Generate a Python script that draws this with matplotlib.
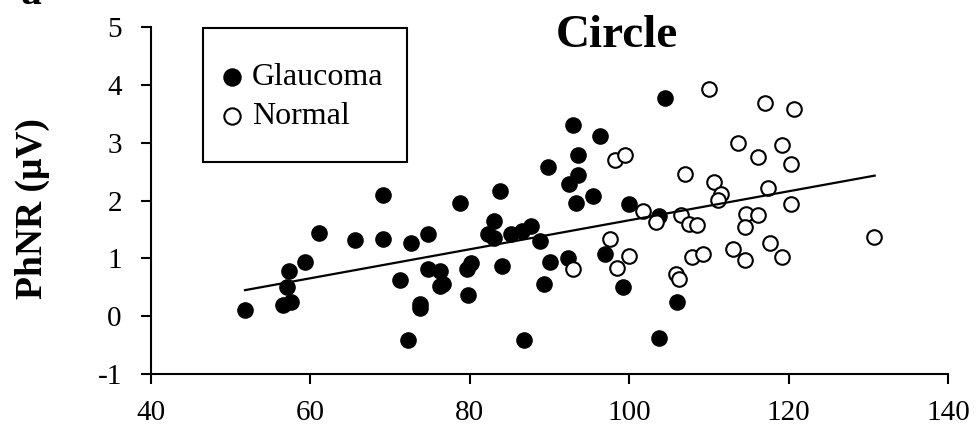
import matplotlib
matplotlib.use("Agg")
import matplotlib.pyplot as plt
from matplotlib.patches import Rectangle

plt.rcParams['font.family'] = ['Liberation Serif', 'DejaVu Serif']
plt.rcParams['axes.unicode_minus'] = False

glaucoma_x = [51.8, 56.5, 57.6, 57.1, 57.3, 59.3, 61.1, 65.6, 69.05, 69.05,
              72.6, 71.3, 72.3, 73.8, 73.8, 74.8, 74.8, 76.2, 76.2, 76.7,
              78.8, 79.6, 80.2, 79.8, 83.8, 83.0, 82.3, 83.0, 84.05, 85.2,
              86.5, 87.7, 88.8, 89.3, 86.8, 89.8, 90.0, 92.3, 92.96, 93.6,
              93.6, 92.5, 93.3, 95.5, 96.3, 97.0, 99.2, 100.0, 103.7, 104.5,
              106.0, 103.7]
glaucoma_y = [0.10, 0.19, 0.24, 0.50, 0.78, 0.93, 1.43, 1.31, 1.33, 2.09,
              1.27, 0.63, -0.42, 0.21, 0.14, 1.42, 0.82, 0.78, 0.52, 0.55,
              1.95, 0.82, 0.92, 0.36, 2.17, 1.64, 1.42, 1.36, 0.87, 1.42,
              1.48, 1.56, 1.30, 0.55, -0.42, 2.58, 0.94, 1.00, 3.30, 2.79,
              2.44, 2.28, 1.96, 2.08, 3.11, 1.08, 0.50, 1.94, 1.74, 3.77,
              0.24, -0.37]

normal_x = [93.0, 98.2, 99.5, 97.55, 98.5, 100.0, 101.7, 103.4, 110.0, 117.0,
            120.7, 113.7, 119.2, 116.2, 120.25, 107.05, 110.7, 111.5, 111.2, 117.45,
            120.25, 106.5, 107.5, 108.55, 114.7, 116.2, 114.5, 130.7, 117.7, 113.0,
            107.9, 109.25, 114.5, 119.2, 105.9, 106.25]
normal_y = [0.82, 2.70, 2.79, 1.34, 0.84, 1.04, 1.82, 1.63, 3.93, 3.68,
            3.58, 3.00, 2.96, 2.76, 2.63, 2.46, 2.32, 2.12, 2.01, 2.21,
            1.94, 1.75, 1.59, 1.57, 1.76, 1.75, 1.55, 1.37, 1.26, 1.16,
            1.03, 1.08, 0.97, 1.03, 0.73, 0.65]

trend_x = [51.8, 130.8]
trend_y = [0.45, 2.43]

x_ticks = [40, 60, 80, 100, 120, 140]
y_ticks = [-1, 0, 1, 2, 3, 4, 5]

W, H = 978, 429
fig = plt.figure(figsize=(W / 100, H / 100), dpi=100)
L, R, B, T = 151, 948, 374, 27
ax = fig.add_axes([L / W, 1 - B / H, (R - L) / W, (B - T) / H])

ax.scatter(glaucoma_x, glaucoma_y, s=120, c='black', edgecolors='black',
           linewidths=1.0, zorder=3, label='Glaucoma')
ax.scatter(normal_x, normal_y, s=110, facecolors='white', edgecolors='black',
           linewidths=1.5, zorder=3, label='Normal')
ax.plot(trend_x, trend_y, color='black', lw=1.6, zorder=4)

ax.set_xlim(40, 140)
ax.set_ylim(-1, 5)
ax.set_xticks(x_ticks)
ax.set_yticks(y_ticks)
for s in ['top', 'right']:
    ax.spines[s].set_visible(False)
for s in ['left', 'bottom']:
    ax.spines[s].set_linewidth(1.5)
ax.tick_params(axis='both', direction='out', length=7, width=1.5, labelsize=21)
ax.tick_params(axis='y', pad=14)
ax.tick_params(axis='x', pad=12)

ax.set_ylabel('PhNR (μV)', fontsize=27, fontweight='bold')
ax.yaxis.set_label_coords((50 - L) / (R - L), (B - 209) / (B - T))

def axc(px, py):
    return ((px - L) / (R - L), (B - py) / (B - T))

# legend box
x0, y0 = axc(203, 162)
x1, y1 = axc(407, 28)
ax.add_patch(Rectangle((x0, y0), x1 - x0, y1 - y0, transform=ax.transAxes,
                       fill=False, edgecolor='black', lw=1.5, clip_on=False, zorder=5))
lx, ly = axc(222, 63)
leg = ax.legend(loc='upper left', bbox_to_anchor=(lx, ly), frameon=False,
                fontsize=23, handlelength=0.6, handletextpad=0.33,
                borderaxespad=0, borderpad=0, labelspacing=0.3,
                markerscale=1.12)

fig.text(617 / W, 1 - 47 / H, 'Circle', fontsize=34, fontweight='bold',
         ha='center', va='baseline')
fig.text(21 / W, 1 - 4 / H, 'a', fontsize=30, fontweight='bold',
         ha='left', va='baseline')

fig.savefig('out.png', dpi=100)
